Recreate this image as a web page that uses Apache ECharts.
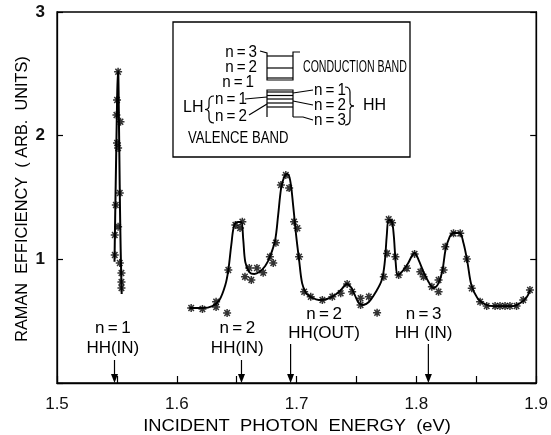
<!DOCTYPE html>
<html><head><meta charset="utf-8">
<script src="https://cdn.jsdelivr.net/npm/echarts@6/dist/echarts.min.js"></script>
<style>html,body{margin:0;padding:0;background:#fff}#c{width:551px;height:435px}</style>
</head><body><div id="c"></div>
<script>
// ---- data ----
const xTickLabels = [1.5, 1.6, 1.7, 1.8, 1.9];
const yTickLabels = [1, 2, 3];

// n=1 resonance (fitted curve)
const curveLeftE = [1.5480, 1.5483, 1.5488, 1.5495, 1.5502, 1.5508, 1.5512, 1.5516, 1.5521, 1.5526, 1.5531, 1.5536, 1.5540];
const curveLeftV = [0.98, 1.18, 1.48, 1.90, 2.30, 2.52, 2.50, 2.20, 1.80, 1.40, 1.10, 0.88, 0.72];

// main fitted curve
const curveE = [1.6106,1.6214,1.6297,1.6356,1.6405,1.6430,1.6455,1.6480,1.6514,1.6538,1.6555,1.6572,1.6605,1.6647,1.6688,1.6738,1.6780,1.6821,1.6846,1.6871,1.6896,1.6921,1.6946,1.6971,1.6996,1.7021,1.7046,1.7079,1.7121,1.7187,1.7254,1.7320,1.7370,1.7420,1.7453,1.7486,1.7520,1.7553,1.7603,1.7661,1.7711,1.7736,1.7753,1.7769,1.7794,1.7811,1.7827,1.7844,1.7877,1.7927,1.7985,1.8019,1.8060,1.8102,1.8143,1.8185,1.8218,1.8243,1.8277,1.8310,1.8360,1.8393,1.8426,1.8459,1.8509,1.8568,1.8642,1.8725,1.8809,1.8867,1.8917,1.8950];
const curveV = [0.606,0.606,0.622,0.671,0.792,0.913,1.116,1.277,1.302,1.302,1.156,0.978,0.897,0.881,0.897,0.946,1.027,1.156,1.358,1.576,1.665,1.690,1.641,1.439,1.196,0.994,0.808,0.728,0.695,0.671,0.679,0.711,0.752,0.800,0.776,0.711,0.647,0.631,0.655,0.736,0.833,0.978,1.196,1.318,1.310,1.196,0.978,0.873,0.897,0.962,1.051,0.994,0.897,0.817,0.768,0.808,0.914,1.075,1.180,1.213,1.213,1.132,0.978,0.792,0.687,0.639,0.622,0.622,0.622,0.647,0.687,0.752];

// measured points
const ptsLeftE = [1.5510,1.5501,1.5496,1.5530,1.5501,1.5510,1.5524,1.5491,1.5510,1.5482,1.5482,1.5524,1.5538,1.5538,1.5538];
const ptsLeftV = [2.517,2.288,2.167,2.112,1.940,1.900,1.536,1.439,1.264,1.196,1.035,0.970,0.889,0.817,0.768];
const ptsE = [1.6120,1.6214,1.6328,1.6328,1.6420,1.6430,1.6489,1.6528,1.6547,1.6569,1.6622,1.6605,1.6669,1.6721,1.6777,1.6805,1.6827,1.6869,1.6910,1.6938,1.6979,1.7007,1.7021,1.7063,1.7118,1.7215,1.7298,1.7368,1.7422,1.7464,1.7534,1.7534,1.7603,1.7672,1.7728,1.7755,1.7769,1.7797,1.7825,1.7852,1.7921,1.7985,1.8033,1.8060,1.8129,1.8185,1.8185,1.8227,1.8241,1.8310,1.8366,1.8421,1.8462,1.8532,1.8587,1.8657,1.8698,1.8740,1.8781,1.8836,1.8892,1.8948];
const ptsV = [0.606,0.598,0.657,0.614,0.566,0.913,1.277,1.253,1.304,0.859,0.833,0.930,0.930,0.892,1.021,0.970,1.134,1.601,1.681,1.576,1.304,1.251,1.021,0.738,0.698,0.671,0.698,0.725,0.800,0.738,0.631,0.685,0.698,0.568,0.859,1.048,1.323,1.296,1.021,0.873,0.927,1.043,0.900,0.859,0.778,0.738,0.833,0.914,1.102,1.210,1.210,1.002,0.766,0.657,0.622,0.622,0.622,0.622,0.622,0.622,0.671,0.752];

// transition markers
const arrowE = [1.548, 1.654, 1.695, 1.810];
const annTop = ['n=1', 'n=2', 'n=2', 'n=3'];
const annBottom = ['HH(IN)', 'HH(IN)', 'HH(OUT)', 'HH (IN)'];

// ---- layout (not data) ----
const annLayout = [
  {cx: 1.5466, y1: 0.445, y2: 0.283, top: 0.186},
  {cx: 1.6505, y1: 0.445, y2: 0.283, top: 0.186},
  {cx: 1.7229, y1: 0.558, y2: 0.404, top: 0.315},
  {cx: 1.8060, y1: 0.558, y2: 0.404, top: 0.315}
];

const pair = (a, b) => a.map((v, i) => [v, b[i]]);
const FONT = 'Liberation Sans, Arial, sans-serif';
const star = 'path://M0,5L10,5M1.6,1.6L8.4,8.4M1.6,8.4L8.4,1.6M5,0.5L5,9.5';
const th = '\u2009';
const nl = s => s.replace('=', th + '=' + th);

const chart = echarts.init(document.getElementById('c'), null, {renderer: 'canvas'});
const option = {
  animation: false,
  backgroundColor: '#fff',
  grid: {left: 57, right: 13, top: 12, bottom: 52, show: true, borderColor: '#000', borderWidth: 1.3},
  xAxis: {
    type: 'value', min: 1.5, max: 1.9, interval: 0.05,
    axisLine: {show: true, lineStyle: {color: '#000', width: 1.3}},
    axisTick: {show: true, inside: true, length: 7, lineStyle: {color: '#000', width: 1.2}},
    splitLine: {show: false},
    axisLabel: {
      color: '#111', fontFamily: FONT, fontSize: 17, margin: 13,
      formatter: v => { const r = Math.round(v * 100); return r % 10 === 0 ? (r / 100).toFixed(1) : ''; }
    }
  },
  yAxis: [{
    type: 'value', min: 0, max: 3, interval: 1,
    axisLine: {show: true, lineStyle: {color: '#000', width: 1.3}},
    axisTick: {show: true, inside: true, length: 6, lineStyle: {color: '#000', width: 1.2}},
    splitLine: {show: false},
    axisLabel: {color: '#111', fontFamily: FONT, fontSize: 17, fontWeight: 'bold', margin: 12, padding: [9, 0, 0, 0],
      formatter: v => yTickLabels.indexOf(v) >= 0 ? String(v) : ''}
  }, {
    type: 'value', min: 0, max: 3, interval: 1, position: 'right',
    axisLine: {show: true, lineStyle: {color: '#000', width: 1.3}},
    axisTick: {show: true, inside: true, length: 6, lineStyle: {color: '#000', width: 1.2}},
    splitLine: {show: false}, axisLabel: {show: false}
  }],
  series: [
    {type: 'line', data: pair(curveLeftE, curveLeftV), symbol: 'none', smooth: 0.2,
      lineStyle: {color: '#000', width: 2}},
    {type: 'line', data: pair(curveE, curveV), symbol: 'none', smooth: 0.35,
      lineStyle: {color: '#000', width: 1.9}},
    {type: 'scatter', data: pair(ptsLeftE, ptsLeftV).concat(pair(ptsE, ptsV)), symbol: star, symbolSize: 8,
      itemStyle: {color: '#000', borderColor: '#000', borderWidth: 1.5}, z: 5}
  ]
};
chart.setOption(option);

// ---- annotations & inset ----
const g = [];
arrowE.forEach((e, i) => {
  const L = annLayout[i];
  const c = chart.convertToPixel({xAxisIndex: 0, yAxisIndex: 0}, [L.cx, L.y1]);
  const c2 = chart.convertToPixel({xAxisIndex: 0, yAxisIndex: 0}, [L.cx, L.y2]);
  const a0 = chart.convertToPixel({xAxisIndex: 0, yAxisIndex: 0}, [e, L.top]);
  const a1 = chart.convertToPixel({xAxisIndex: 0, yAxisIndex: 0}, [e, 0]);
  g.push({type: 'text', x: c[0], y: c[1], style: {text: nl(annTop[i]), font: '17px ' + FONT, fill: '#000', align: 'center', verticalAlign: 'middle'}});
  g.push({type: 'text', x: c2[0], y: c2[1], style: {text: annBottom[i], font: '17px ' + FONT, fill: '#000', align: 'center', verticalAlign: 'middle'}});
  g.push({type: 'line', shape: {x1: a0[0], y1: a0[1], x2: a1[0], y2: a1[1] - 6}, style: {stroke: '#000', lineWidth: 1.2}});
  g.push({type: 'polygon', shape: {points: [[a1[0] - 3.5, a1[1] - 9], [a1[0] + 3.5, a1[1] - 9], [a1[0], a1[1]]]}, style: {fill: '#000'}});
});

// axis titles
g.push({type: 'text', x: 297, y: 426, scaleX: 1.08, style: {text: 'INCIDENT  PHOTON  ENERGY  (eV)', font: '17px ' + FONT, fill: '#000', align: 'center', verticalAlign: 'middle'}});
g.push({type: 'text', x: 22, y: 199, rotation: Math.PI / 2, scaleX: 0.96, style: {text: 'RAMAN  EFFICIENCY  ( ARB.  UNITS)', font: '17px ' + FONT, fill: '#000', align: 'center', verticalAlign: 'middle'}});

// inset
const S = {stroke: '#000', lineWidth: 1.2, fill: null};
const T = (t, x, y, al, fs, sx) => ({type: 'text', x, y, scaleX: sx || 1, style: {text: t, font: (fs || 16) + 'px ' + FONT, fill: '#000', align: al || 'left', verticalAlign: 'middle'}});
const P = pts => ({type: 'polyline', shape: {points: pts}, style: S});
const Q = (x1, y1, cx, cy, x2, y2) => ({type: 'bezierCurve', shape: {x1, y1, cpx1: cx, cpy1: cy, x2, y2}, style: S});
g.push({type: 'rect', shape: {x: 173, y: 22, width: 237, height: 135}, style: {stroke: '#000', lineWidth: 1.3, fill: null}});
// conduction well
g.push(P([[260, 51], [267, 53], [267, 80], [293, 80], [293, 52], [300, 52]]));
[56, 68, 78].forEach(y => g.push(P([[267, y], [293, y]])));
g.push(T(nl('n=3'), 257, 53, 'right', 16, 0.95));
g.push(T(nl('n=2'), 257, 68, 'right', 16, 0.95));
g.push(T(nl('n=1'), 254, 83, 'right', 16, 0.95));
g.push(T('CONDUCTION BAND', 303, 68, 'left', 16, 0.66));
// valence well
g.push(P([[267, 117], [267, 90], [293, 90], [293, 117]]));
[92, 95.5, 99, 103, 107].forEach(y => g.push(P([[267, y], [293, y]])));
g.push(P([[245, 99], [267, 97]]));
g.push(P([[249, 115], [267, 104]]));
g.push(P([[293, 93], [313, 90]]));
g.push(P([[293, 101], [313, 105]]));
g.push(P([[293, 117], [303, 117], [313, 120]]));
g.push(T(nl('n=1'), 215, 100, 'left', 16, 0.95));
g.push(T(nl('n=2'), 215, 117, 'left', 16, 0.95));
g.push(T(nl('n=1'), 314, 91, 'left', 16, 0.95));
g.push(T(nl('n=2'), 314, 106, 'left', 16, 0.95));
g.push(T(nl('n=3'), 314, 121, 'left', 16, 0.95));
g.push(T('LH', 183, 108, 'left', 16));
g.push(T('HH', 363, 106, 'left', 16));
// braces
[[214, 209, 205, 96, 123], [345, 350, 354, 87, 125]].forEach(([xe, xm, xt, y0, y1]) => {
  const yc = (y0 + y1) / 2;
  g.push(Q(xe, y0, xm, y0, xm, y0 + 5));
  g.push(P([[xm, y0 + 5], [xm, yc - 3.5]]));
  g.push(Q(xm, yc - 3.5, xm, yc, xt, yc));
  g.push(Q(xt, yc, xm, yc, xm, yc + 3.5));
  g.push(P([[xm, yc + 3.5], [xm, y1 - 5]]));
  g.push(Q(xm, y1 - 5, xm, y1, xe, y1));
});
g.push(T('VALENCE BAND', 188, 139, 'left', 16, 0.82));

chart.setOption({graphic: g});
</script></body></html>
